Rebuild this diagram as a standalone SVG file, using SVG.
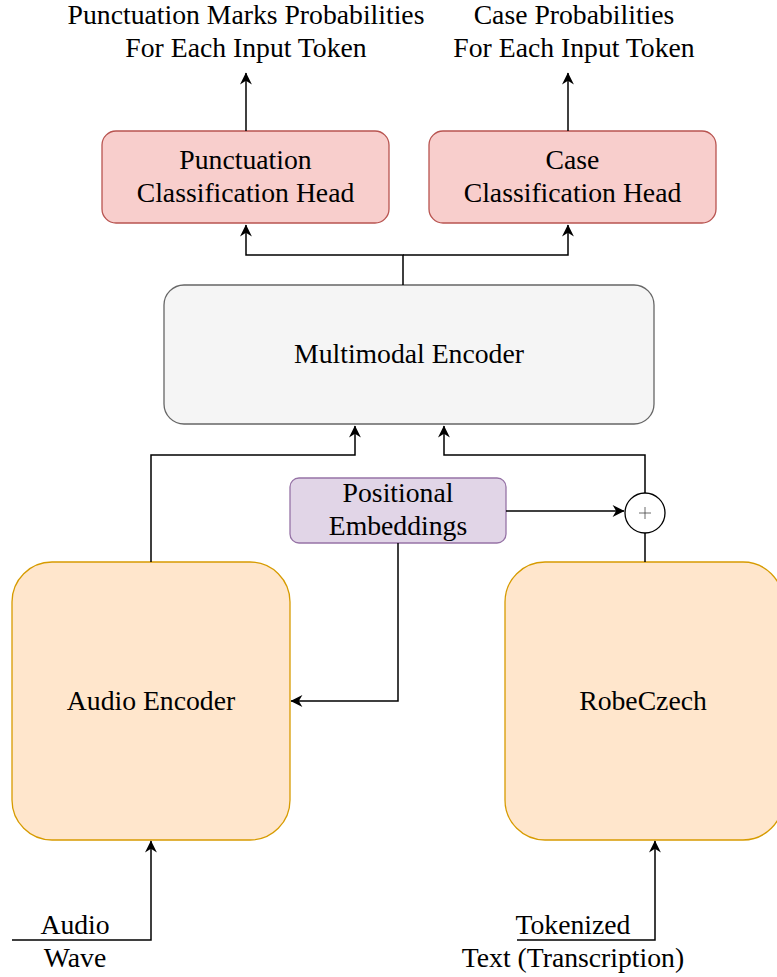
<svg xmlns="http://www.w3.org/2000/svg" width="777" height="977" viewBox="0 0 777 977">
  <style>
    text { font-family: "Liberation Serif", "Times New Roman", serif; font-size: 27.7px; fill: #000; text-anchor: middle; }
    .head { fill: #f8cecc; stroke: #b85450; stroke-width: 1.3; }
    .enc { fill: #f5f5f5; stroke: #666666; stroke-width: 1.3; }
    .pos { fill: #e1d5e7; stroke: #9673a6; stroke-width: 1.3; }
    .mod { fill: #ffe6cc; stroke: #d79b00; stroke-width: 1.3; }
    .edge { fill: none; stroke: #000; stroke-width: 1.5; }
  </style>
  <defs>
    <marker id="arrow" viewBox="0 0 10 10" refX="9" refY="5" markerWidth="7" markerHeight="7" markerUnits="userSpaceOnUse" orient="auto" overflow="visible">
      <path d="M0,0 L10,5 L0,10 L3,5 z" fill="#000" transform="scale(1.7) translate(-4.3,-2.1)"/>
    </marker>
  </defs>
  <rect width="777" height="977" fill="#fff"/>

  <!-- output labels -->
  <g id="out-punct">
    <text x="246" y="24">Punctuation Marks Probabilities</text>
    <text x="246" y="57">For Each Input Token</text>
  </g>
  <g id="out-case">
    <text x="574" y="24">Case Probabilities</text>
    <text x="574" y="57">For Each Input Token</text>
  </g>

  <g id="punct-head">
    <rect class="head" x="102" y="131" width="287" height="92" rx="14"/>
    <text x="245.5" y="169">Punctuation</text>
    <text x="245.5" y="202">Classification Head</text>
  </g>
  <g id="case-head">
    <rect class="head" x="429" y="131" width="287" height="92" rx="14"/>
    <text x="572.5" y="169">Case</text>
    <text x="572.5" y="202">Classification Head</text>
  </g>

  <g id="multimodal-encoder">
    <rect class="enc" x="164" y="285" width="490" height="139" rx="20"/>
    <text x="409" y="363">Multimodal Encoder</text>
  </g>

  <g id="positional-embeddings">
    <rect class="pos" x="290" y="478" width="216" height="65" rx="9"/>
    <text x="398" y="502">Positional</text>
    <text x="398" y="535">Embeddings</text>
  </g>

  <g id="plus">
    <circle cx="645" cy="513" r="20" fill="#fff" stroke="#000" stroke-width="1.3"/>
    <path d="M639,513 H651 M645,507 V519" stroke="#444" stroke-width="0.8" fill="none"/>
  </g>

  <g id="audio-encoder">
    <rect class="mod" x="12" y="562" width="278" height="278" rx="40"/>
    <text x="151" y="710">Audio Encoder</text>
  </g>

  <g id="robeczech">
    <rect class="mod" x="505" y="562" width="278" height="278" rx="40"/>
    <text x="643" y="710">RobeCzech</text>
  </g>

  <g id="in-audio">
    <text x="75" y="934">Audio</text>
    <text x="75" y="967">Wave</text>
  </g>
  <g id="in-text">
    <text x="573" y="934">Tokenized</text>
    <text x="573" y="967">Text (Transcription)</text>
  </g>

  <g id="connectors">
    <path class="edge" d="M246,131 V73" marker-end="url(#arrow)"/>
    <path class="edge" d="M568,131 V73" marker-end="url(#arrow)"/>
    <path class="edge" d="M403,285 V255 H246 V225" marker-end="url(#arrow)"/>
    <path class="edge" d="M403,255 H568 V225" marker-end="url(#arrow)"/>
    <path class="edge" d="M151,562 V455 H355 V426" marker-end="url(#arrow)"/>
    <path class="edge" d="M645,493 V455 H444 V426" marker-end="url(#arrow)"/>
    <path class="edge" d="M645,562 V533"/>
    <path class="edge" d="M506,511 H624" marker-end="url(#arrow)"/>
    <path class="edge" d="M398,543 V701 H291" marker-end="url(#arrow)"/>
    <path class="edge" d="M12,940 H151 V841" marker-end="url(#arrow)"/>
    <path class="edge" d="M517,940 H655 V841" marker-end="url(#arrow)"/>
  </g>
</svg>
